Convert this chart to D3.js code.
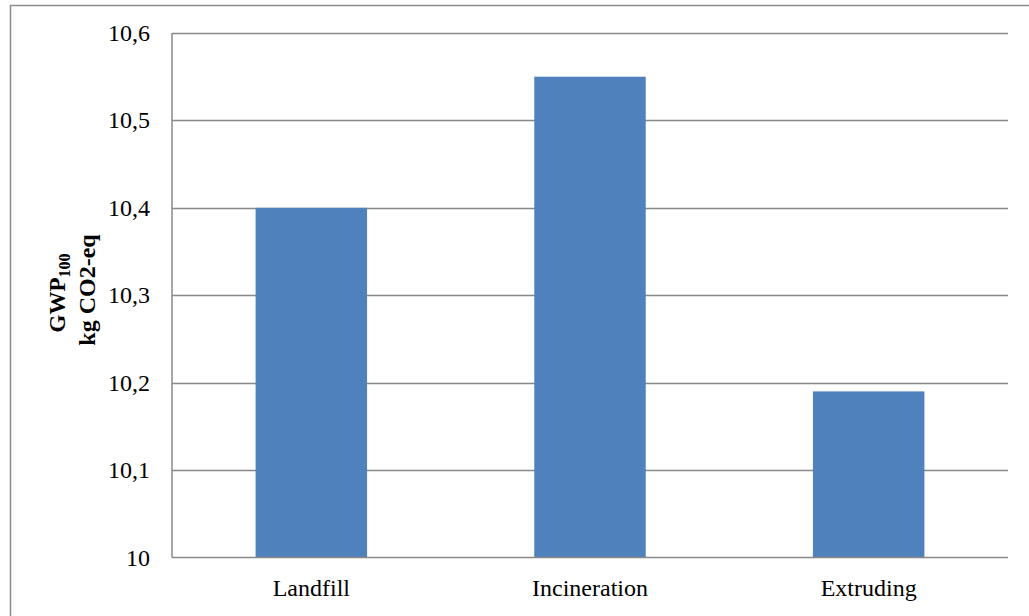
<!DOCTYPE html>
<html><head><meta charset="utf-8">
<script src="https://cdn.jsdelivr.net/npm/d3@7"></script>
<style>body{margin:0;background:#fff}svg{display:block}</style>
</head><body>
<svg id="c" width="1029" height="616"></svg>
<script>
const categories = ["Landfill", "Incineration", "Extruding"];
const values = [10.4, 10.55, 10.19];
const yTicks = [10, 10.1, 10.2, 10.3, 10.4, 10.5, 10.6];
const yTickLabels = ["10", "10,1", "10,2", "10,3", "10,4", "10,5", "10,6"];

const svg = d3.select("#c");
const W = 1029, H = 616;
const m = {left: 172, right: 1008, top: 33, bottom: 557.5};

svg.append("rect").attr("x", 10.5).attr("y", 5.5).attr("width", 1030).attr("height", 620)
  .attr("fill", "#fff").attr("stroke", "#8c8c8c").attr("stroke-width", 1.5);

const x = d3.scaleBand().domain(categories).range([m.left, m.right]).paddingInner(0.6).paddingOuter(0.3);
const y = d3.scaleLinear().domain([10, 10.6]).range([m.bottom, m.top]);

// gridlines
svg.append("g").selectAll("line").data(yTicks.slice(1)).join("line")
  .attr("x1", m.left).attr("x2", m.right)
  .attr("y1", d => Math.round(y(d)) + 0.5).attr("y2", d => Math.round(y(d)) + 0.5)
  .attr("stroke", "#888").attr("stroke-width", 1.3);

// bars
svg.append("g").selectAll("rect").data(values).join("rect")
  .attr("x", (d, i) => x(categories[i]))
  .attr("width", x.bandwidth())
  .attr("y", d => y(d))
  .attr("height", d => y(10) - y(d))
  .attr("fill", "#4F81BD");

// axes lines
svg.append("line").attr("x1", m.left).attr("x2", m.left).attr("y1", m.top).attr("y2", m.bottom)
  .attr("stroke", "#888").attr("stroke-width", 1.5);
svg.append("line").attr("x1", m.left).attr("x2", m.right).attr("y1", m.bottom).attr("y2", m.bottom)
  .attr("stroke", "#888").attr("stroke-width", 1.5);

const font = "'Liberation Serif','Times New Roman',serif";

// y tick labels
svg.append("g").selectAll("text").data(yTicks).join("text")
  .attr("x", 150).attr("y", d => y(d) + 8)
  .attr("text-anchor", "end").attr("font-family", font).attr("font-size", 24).attr("fill", "#000")
  .text((d, i) => yTickLabels[i]);

// x labels
svg.append("g").selectAll("text").data(categories).join("text")
  .attr("x", d => x(d) + x.bandwidth() / 2).attr("y", 596)
  .attr("text-anchor", "middle").attr("font-family", font).attr("font-size", 24).attr("fill", "#000")
  .text(d => d);

// y label
const yl = svg.append("text").attr("transform", "translate(65,293) rotate(-90)")
  .attr("text-anchor", "middle").attr("font-family", font).attr("font-weight", "bold").attr("font-size", 23).attr("fill", "#000");
yl.append("tspan").text("GWP");
yl.append("tspan").attr("font-size", 16).attr("dy", 5).text("100");
const yl2 = svg.append("text").attr("transform", "translate(95,290) rotate(-90)")
  .attr("text-anchor", "middle").attr("font-family", font).attr("font-weight", "bold").attr("font-size", 24).attr("fill", "#000")
  .text("kg CO2-eq");
</script>
</body></html>
